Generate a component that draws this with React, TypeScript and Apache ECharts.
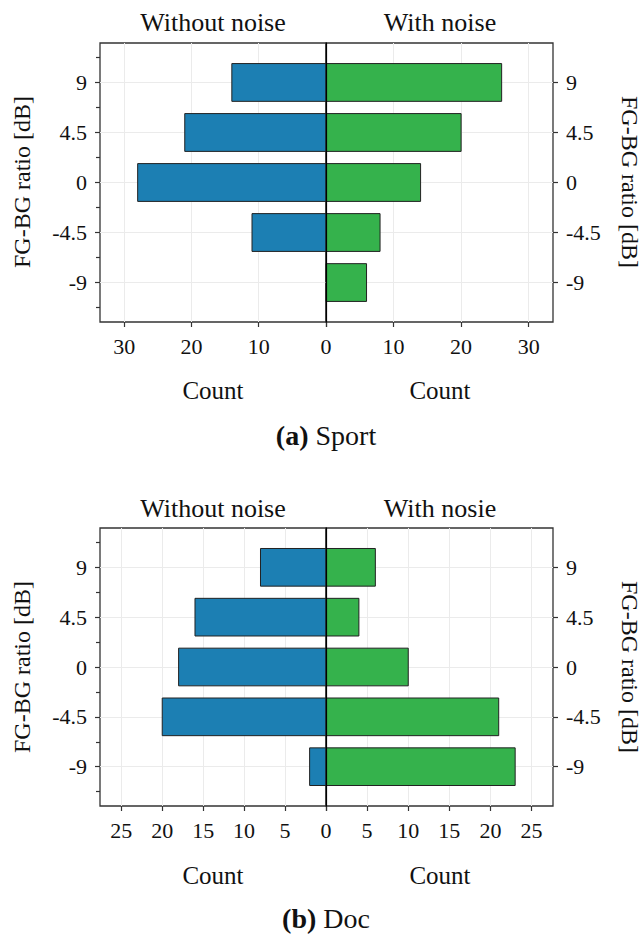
import React, { useEffect, useRef } from "react";
import * as echarts from "echarts";

const categories = [-9, -4.5, 0, 4.5, 9];
const minorTicks = [-11.25, -6.75, -2.25, 2.25, 6.75, 11.25];

const sportWithout = [0, 11, 28, 21, 14];
const sportWith = [6, 8, 14, 20, 26];
const docWithout = [2, 20, 18, 16, 8];
const docWith = [23, 21, 10, 4, 6];

const sportTicks = [0, 10, 20, 30];
const docTicks = [0, 5, 10, 15, 20, 25];
const sportMax = 33.6;
const docMax = 27.6;

const panelTitles = [
  ["Without noise", "With noise"],
  ["Without noise", "With nosie"],
];
const captions = [
  ["(a)", "Sport"],
  ["(b)", "Doc"],
];
const yName = "FG-BG ratio [dB]";
const xName = "Count";

const BLUE = "#1c7fb3";
const GREEN = "#35b24c";
const FONT = "'Liberation Serif', 'DejaVu Serif', serif";
const BAR_H = 3.4;
const Y_MIN = -12.55;
const Y_MAX = 12.55;

export default function App() {
  const ref = useRef<HTMLDivElement>(null);

  useEffect(() => {
    if (!ref.current) return;
    const chart = echarts.init(ref.current, undefined, { renderer: "svg" });

    const panels = [
      { top: 43, height: 279, max: sportMax, ticks: sportTicks, left: sportWithout, right: sportWith },
      { top: 528, height: 278, max: docMax, ticks: docTicks, left: docWithout, right: docWith },
    ];

    const grids: any[] = [];
    const xAxes: any[] = [];
    const yAxes: any[] = [];
    const series: any[] = [];
    const graphics: any[] = [];

    const gridLine = { show: true, lineStyle: { color: "#ebebeb", width: 1 } };
    const tickStyle = { color: "#333", width: 1.2 };

    const makeRender = (color: string) => (params: any, api: any) => {
      const v = api.value(0);
      const c = api.value(1);
      if (!v) return null;
      const a = api.coord([0, c + BAR_H / 2]);
      const b = api.coord([v, c - BAR_H / 2]);
      return {
        type: "rect",
        shape: {
          x: Math.min(a[0], b[0]),
          y: Math.min(a[1], b[1]),
          width: Math.abs(b[0] - a[0]),
          height: Math.abs(b[1] - a[1]),
        },
        style: { fill: color, stroke: "#222", lineWidth: 1 },
      };
    };

    panels.forEach((p, pi) => {
      const gL = grids.length;
      grids.push({
        left: 100, top: p.top, width: 226, height: p.height,
        show: true, borderColor: "#333", borderWidth: 1.3, backgroundColor: "transparent",
      });
      grids.push({
        left: 326, top: p.top, width: 227, height: p.height,
        show: true, borderColor: "#333", borderWidth: 1.3, backgroundColor: "transparent",
      });

      const baseX = {
        type: "value", min: 0, max: p.max, position: "bottom",
        axisLine: { show: false, onZero: false },
        axisTick: { show: true, length: 5, customValues: p.ticks, lineStyle: tickStyle },
        splitLine: gridLine,
        axisLabel: { fontFamily: FONT, fontSize: 22, color: "#111", margin: 13 },
      };
      const xL = xAxes.length;
      xAxes.push({ ...baseX, gridIndex: gL, inverse: true, axisLabel: { ...baseX.axisLabel, customValues: p.ticks } });
      xAxes.push({ ...baseX, gridIndex: gL + 1, axisLabel: { ...baseX.axisLabel, customValues: p.ticks.filter((t) => t !== 0) } });

      const baseY = {
        type: "value", min: Y_MIN, max: Y_MAX,
        axisLine: { show: false, onZero: false },
        axisLabel: { fontFamily: FONT, fontSize: 22, color: "#111", margin: 13, customValues: categories },
        axisTick: { show: true, length: 5, customValues: categories, lineStyle: tickStyle },
        splitLine: gridLine,
      };
      const yL = yAxes.length;
      yAxes.push({ ...baseY, gridIndex: gL, position: "left" });
      yAxes.push({
        type: "value", min: Y_MIN, max: Y_MAX, gridIndex: gL, position: "left",
        axisLine: { show: false, onZero: false }, axisLabel: { show: false }, splitLine: { show: false },
        axisTick: { show: true, length: 4, customValues: minorTicks, lineStyle: tickStyle },
      });
      const yR = yAxes.length;
      yAxes.push({ ...baseY, gridIndex: gL + 1, position: "right" });
      yAxes.push({
        type: "value", min: Y_MIN, max: Y_MAX, gridIndex: gL + 1, position: "left",
        axisLine: { show: true, onZero: false, lineStyle: { color: "#000", width: 1.2 } },
        axisLabel: { show: false }, axisTick: { show: false }, splitLine: { show: false },
        z: 5,
      });

      series.push({
        type: "custom", coordinateSystem: "cartesian2d",
        xAxisIndex: xL, yAxisIndex: yL,
        data: categories.map((c, i) => [p.left[i], c]),
        renderItem: makeRender(BLUE), z: 2,
      });
      series.push({
        type: "custom", coordinateSystem: "cartesian2d",
        xAxisIndex: xL + 1, yAxisIndex: yR,
        data: categories.map((c, i) => [p.right[i], c]),
        renderItem: makeRender(GREEN), z: 2,
      });

      const off = pi === 0 ? 0 : 485;
      const txt = (text: string, x: number, y: number, size: number, rotation = 0) => ({
        type: "text", x, y, rotation,
        style: { text, fontFamily: FONT, fontSize: size, fill: "#111", align: "center", verticalAlign: "middle" },
      });
      graphics.push(txt(panelTitles[pi][0], 213, 22 + (pi === 0 ? 0 : 486), 26));
      graphics.push(txt(panelTitles[pi][1], 440, 22 + (pi === 0 ? 0 : 486), 26));
      graphics.push(txt(xName, 213, 390 + off, 25));
      graphics.push(txt(xName, 440, 390 + off, 25));
      graphics.push(txt(yName, 22, 182 + off, 24, Math.PI / 2));
      graphics.push(txt(yName, 630, 182 + off, 24, -Math.PI / 2));
      graphics.push({
        type: "text", x: 326, y: (pi === 0 ? 435 : 918),
        style: {
          text: `{b|${captions[pi][0]}} ${captions[pi][1]}`,
          rich: { b: { fontFamily: FONT, fontSize: 28, fontWeight: "bold", fill: "#111" } },
          fontFamily: FONT, fontSize: 28, fill: "#111", align: "center", verticalAlign: "middle",
        },
      });
    });

    chart.setOption({
      animation: false,
      backgroundColor: "#fff",
      textStyle: { fontFamily: FONT },
      grid: grids,
      xAxis: xAxes,
      yAxis: yAxes,
      series,
      graphic: graphics,
    });

    return () => chart.dispose();
  }, []);

  return (
    <div
      ref={ref}
      style={{ position: "fixed", left: 0, top: 0, width: 644, height: 934, background: "#fff" }}
    />
  );
}
